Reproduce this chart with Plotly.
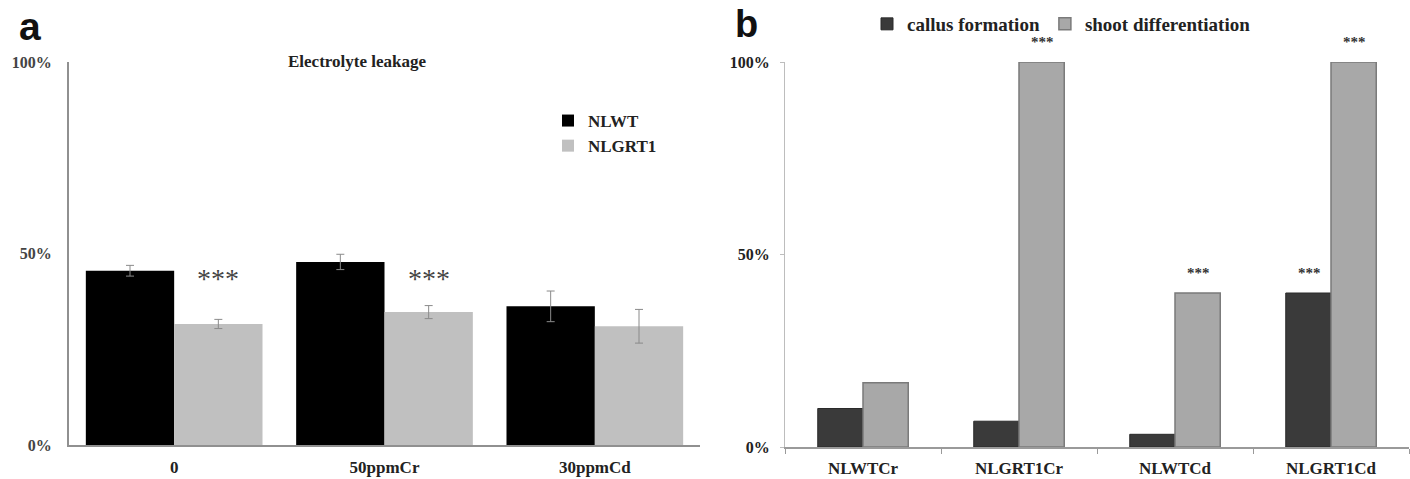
import plotly.graph_objects as go

# ---------------- data ----------------
cats_a = ["0", "50ppmCr", "30ppmCd"]
nlwt = [45.5, 47.8, 36.2]
nlwt_err = [1.4, 2.0, 4.0]
nlgrt1 = [31.6, 34.7, 31.0]
nlgrt1_err = [1.2, 1.7, 4.4]
sig_a = ["***", "***", ""]          # over NLGRT1 bars

cats_b = ["NLWTCr", "NLGRT1Cr", "NLWTCd", "NLGRT1Cd"]
callus = [10.0, 6.7, 3.3, 40.0]
shoot = [16.7, 100.0, 40.0, 100.0]
sig_callus = ["", "", "", "***"]
sig_shoot = ["", "***", "***", "***"]

ticks_pct = [0, 50, 100]
tick_text = ["0%", "50%", "100%"]

W, H = 1410, 479
SERIF = "Liberation Serif"
SANS = "Liberation Sans"


def px(x):
    return x / W


def py(y):
    return (H - y) / H


fig = go.Figure()

# ---------------- panel a ----------------
fig.add_trace(go.Bar(
    x=cats_a, y=nlwt, name="NLWT", xaxis="x", yaxis="y",
    marker=dict(color="#000000", line=dict(width=0)),
    width=0.42, offset=-0.42,
    error_y=dict(type="data", array=nlwt_err, color="#8a8a8a", thickness=1, width=4),
    legend="legend",
))
fig.add_trace(go.Bar(
    x=cats_a, y=nlgrt1, name="NLGRT1", xaxis="x", yaxis="y",
    marker=dict(color="#c0c0c0", line=dict(width=0)),
    width=0.42, offset=0.0,
    error_y=dict(type="data", array=nlgrt1_err, color="#8a8a8a", thickness=1, width=4),
    legend="legend",
))

# ---------------- panel b ----------------
fig.add_trace(go.Bar(
    x=cats_b, y=callus, name="callus formation", xaxis="x2", yaxis="y2",
    marker=dict(color="#3a3a3a", line=dict(width=1, color="#2a2a2a")),
    width=0.29, offset=-0.29, legend="legend2",
))
fig.add_trace(go.Bar(
    x=cats_b, y=shoot, name="shoot differentiation", xaxis="x2", yaxis="y2",
    marker=dict(color="#a8a8a8", line=dict(width=1.5, color="#7a7a7a")),
    width=0.29, offset=0.0, legend="legend2",
))

annotations = []
# significance stars panel a (drawn at a common level above the groups)
for c, s in zip(cats_a, sig_a):
    if s:
        annotations.append(dict(
            x=c, y=43.5, xref="x", yref="y", text=s, showarrow=False,
            xshift=44, yanchor="middle",
            font=dict(family=SERIF, size=28, color="#444444"),
        ))
# significance stars panel b
for c, v, s in zip(cats_b, callus, sig_callus):
    if s:
        annotations.append(dict(
            x=c, y=v, xref="x2", yref="y2", text=s, showarrow=False,
            xshift=-22, yshift=20, yanchor="middle",
            font=dict(family=SERIF, size=15, color="#333333", weight="bold"),
        ))
for c, v, s in zip(cats_b, shoot, sig_shoot):
    if s:
        annotations.append(dict(
            x=c, y=v, xref="x2", yref="y2", text=s, showarrow=False,
            xshift=23, yshift=20, yanchor="middle",
            font=dict(family=SERIF, size=15, color="#333333", weight="bold"),
        ))

# titles / panel letters
annotations.append(dict(
    x=px(357), y=py(62), xref="paper", yref="paper", text="Electrolyte leakage",
    showarrow=False, xanchor="center", yanchor="middle",
    font=dict(family=SERIF, size=17, color="#222222", weight="bold"),
))
annotations.append(dict(
    x=px(17), y=py(27), xref="paper", yref="paper", text="a",
    showarrow=False, xanchor="left", yanchor="middle",
    font=dict(family=SANS, size=39, color="#111111", weight="bold"),
))
annotations.append(dict(
    x=px(733), y=py(24), xref="paper", yref="paper", text="b",
    showarrow=False, xanchor="left", yanchor="middle",
    font=dict(family=SANS, size=38, color="#111111", weight="bold"),
))

fig.update_layout(
    width=W, height=H,
    margin=dict(l=0, r=0, t=0, b=0),
    paper_bgcolor="white", plot_bgcolor="white",
    showlegend=True,
    barmode="overlay",
    xaxis=dict(domain=[px(69), px(700)], type="category", showline=True,
               linecolor="#909090", linewidth=2, ticks="", showgrid=False,
               tickfont=dict(family=SERIF, size=17, color="#222222", weight="bold"),
               ticklabelstandoff=6, automargin=False, range=[-0.5, 2.5],
               anchor="y"),
    yaxis=dict(domain=[py(445), py(62)], range=[0, 100], showline=True,
               linecolor="#909090", linewidth=2, ticks="", showgrid=False,
               zeroline=False, tickvals=ticks_pct, ticktext=tick_text,
               tickfont=dict(family=SERIF, size=16, color="#444444", weight="bold"),
               ticklabelstandoff=12, automargin=False, anchor="x"),
    xaxis2=dict(domain=[px(785), px(1409)], type="category", showline=True,
                linecolor="#9a9a9a", linewidth=1.5, ticks="outside", ticklen=5,
                tickcolor="#9a9a9a", tickson="boundaries", showgrid=False,
                tickfont=dict(family=SERIF, size=17, color="#222222", weight="bold"),
                ticklabelstandoff=5, automargin=False, range=[-0.5, 3.5],
                anchor="y2"),
    yaxis2=dict(domain=[py(447), py(62)], range=[0, 100], showline=True,
                linecolor="#bdbdbd", linewidth=1, ticks="outside", ticklen=4,
                tickcolor="#bdbdbd", showgrid=False, zeroline=False,
                tickvals=ticks_pct, ticktext=tick_text,
                tickfont=dict(family=SERIF, size=16, color="#222222", weight="bold"),
                ticklabelstandoff=7, automargin=False, anchor="x2"),
    legend=dict(x=px(548), y=py(103), xanchor="left", yanchor="top",
                bgcolor="rgba(0,0,0,0)", itemwidth=30, tracegroupgap=0,
                font=dict(family=SERIF, size=17, color="#222222", weight="bold")),
    legend2=dict(x=px(867), y=py(24), xanchor="left", yanchor="middle",
                 orientation="h", bgcolor="rgba(0,0,0,0)", itemwidth=30,
                 font=dict(family=SERIF, size=19, color="#222222", weight="bold")),
    annotations=annotations,
)

fig.write_html("out.html", config={"displayModeBar": False},
               post_script="document.body.style.margin='0';")
